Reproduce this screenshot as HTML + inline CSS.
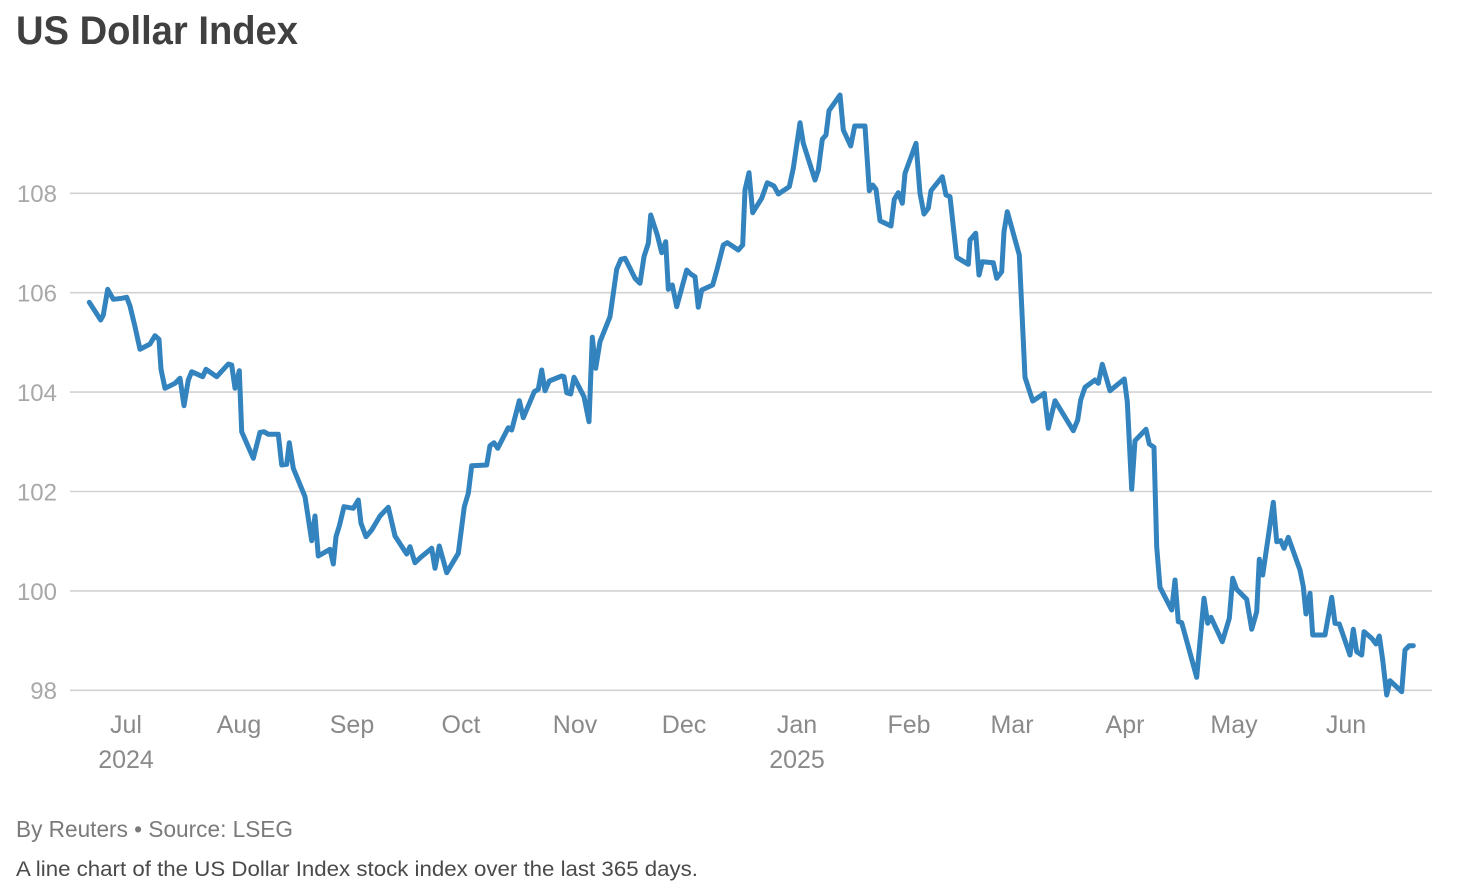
<!DOCTYPE html>
<html>
<head>
<meta charset="utf-8">
<style>
  html, body { margin: 0; padding: 0; background: #ffffff; }
  body { width: 1462px; height: 892px; overflow: hidden; }
  svg { display: block; }
</style>
</head>
<body>
<svg width="1462" height="892" viewBox="0 0 1462 892" xmlns="http://www.w3.org/2000/svg">
  <rect x="0" y="0" width="1462" height="892" fill="#ffffff"/>

  <!-- Title -->
  <text x="16" y="44" font-family="Liberation Sans, sans-serif" font-weight="bold" font-size="40" fill="#404040" textLength="282" lengthAdjust="spacingAndGlyphs">US Dollar Index</text>

  <!-- Gridlines -->
  <g stroke="#d2d2d2" stroke-width="1.6">
    <line x1="70" y1="193.3" x2="1432" y2="193.3"/>
    <line x1="70" y1="292.7" x2="1432" y2="292.7"/>
    <line x1="70" y1="392.1" x2="1432" y2="392.1"/>
    <line x1="70" y1="491.5" x2="1432" y2="491.5"/>
    <line x1="70" y1="590.9" x2="1432" y2="590.9"/>
    <line x1="70" y1="690.3" x2="1432" y2="690.3"/>
  </g>

  <!-- Y labels -->
  <g font-family="Liberation Sans, sans-serif" font-size="24" fill="#a8a8a8" text-anchor="end">
    <text x="57" y="202">108</text>
    <text x="57" y="301.5">106</text>
    <text x="57" y="401">104</text>
    <text x="57" y="500.5">102</text>
    <text x="57" y="600">100</text>
    <text x="57" y="699">98</text>
  </g>

  <!-- X labels -->
  <g font-family="Liberation Sans, sans-serif" font-size="25" fill="#8a8a8a" text-anchor="middle">
    <text x="126" y="733">Jul</text>
    <text x="126" y="768">2024</text>
    <text x="239" y="733">Aug</text>
    <text x="352" y="733">Sep</text>
    <text x="461" y="733">Oct</text>
    <text x="575" y="733">Nov</text>
    <text x="684" y="733">Dec</text>
    <text x="797" y="733">Jan</text>
    <text x="797" y="768">2025</text>
    <text x="909" y="733">Feb</text>
    <text x="1012" y="733">Mar</text>
    <text x="1125" y="733">Apr</text>
    <text x="1234" y="733">May</text>
    <text x="1346" y="733">Jun</text>
  </g>

  <!-- Data line -->
  <polyline fill="none" stroke="#3283be" stroke-width="5" stroke-linejoin="round" stroke-linecap="round"
    points="89.3,302.3 100.7,320 103.3,315 107.7,289.3 113.3,299.3 121.7,298.3 126.7,297.3 130,306 135,326.7 140,349.3 150,344 155,335.7 159,339.3 161,369.3 165,388.3 175,383.3 180,378.3 184,405.7 188.3,380 191.7,371.7 202.7,376.7 206,369.3 216.7,376.7 228.3,364 231.7,365 235,388.3 239.3,370.7 241.7,431.7 253.3,458.3 260,432.3 264,431.7 268.3,434.3 278.3,434.3 281.7,465 286.7,464.3 289.3,442.7 293.3,468.3 305,496.7 311.7,540.7 315,516 318.3,556 330,549.3 333.3,564 336,536.7 339.3,526 344,506.7 353.3,508.3 358.3,500 361,523.3 366,536.7 371.7,530 380,516 388.3,507.3 395,536 406.7,554 410,546.7 415,562.7 420.7,557.3 431.7,548.3 435,568.3 439.3,546 446.7,572.7 458.3,553.3 464.3,506.7 468.3,493.3 471.7,465.7 486.7,465 490,445.7 494,442.7 497.7,448.3 508.3,427.7 511.7,430 519.3,400.7 523.3,417.7 534.3,391.7 538.3,389.3 541.7,370 545,390.7 549.3,381 561.7,376 564,376.7 566.7,392.7 570.7,394 574,377.3 584,396.7 589,421.7 592.3,337.3 595.7,368.3 600,341.7 610,316.7 616.7,269.3 621,259.3 625,258.3 635,278.3 640,283.3 644,256.7 648.3,243.3 650.7,215 657.3,235 661.7,252.7 665.7,241.7 668.3,289.3 672.3,285 676.7,306.7 686.7,270 690.7,274 695,276.7 698.3,307.3 701.7,290 712.7,285 716.7,270.7 723.3,245 727.3,242.7 738.3,250 742.7,245 745,190 749,172.7 752.7,212.7 761.7,198.3 767.3,182.7 774,186 778.3,194 789.3,186.7 793.3,168.3 800,122.7 803.3,143.3 815,180 818.3,170 822.3,139.3 826,135 829,110.7 840,95 843.3,130 850.7,146 854.7,126 865,126 869.3,190.7 872.7,185 876,189.3 880,220.7 891,226 894.3,199.3 898.3,192.7 902.3,203.3 905,173.3 916,143.3 920,193.3 924,214 928.3,208.3 931,190.7 942.3,176.7 946,195 950,196.7 956.7,257.3 968.3,264.3 970,240 975.7,233.3 979,275 982.3,261.7 993.3,262.7 996.7,278.3 1001.7,271.7 1004,231.7 1007.3,211.7 1019.3,255 1025,377.3 1032.7,401 1044.3,393.3 1048.3,428.3 1055,400.7 1073.3,430.7 1077.7,420 1080.7,400 1085,387.3 1095,380 1098.3,383.3 1102.3,364.3 1110,390.7 1124.3,379 1127.3,401.7 1131.7,489.3 1135,440.7 1146,429.3 1149.3,444 1154,447.3 1156.7,546.7 1160,587.3 1171.7,610 1175,580 1178.3,621.7 1181.7,622.7 1196.7,677.3 1204,598.3 1207.7,623.3 1211,617.3 1222.3,641.7 1229.3,618.3 1232.7,578.3 1236.7,589.3 1246.7,599.3 1251.7,629.3 1256.7,611.7 1259.3,559.3 1262.7,575 1273.3,502.3 1276.7,541.7 1280.7,540.7 1284,548.3 1288.3,537.3 1300,570 1303.3,586.7 1306,614 1310,593.3 1312.7,635 1325,635 1331.7,597.3 1335,623.3 1339.3,624 1350,655 1353.3,629.3 1356.7,651.7 1361.7,655 1364,631.7 1371.7,638.3 1376,644 1379.3,636 1382.7,660 1386.7,695 1390,680.7 1401.7,691.7 1405,650 1409.3,645.7 1413.3,645.7"/>

  <!-- Footer -->
  <text x="16" y="837" font-family="Liberation Sans, sans-serif" font-size="23" fill="#7a7a7a" textLength="277" lengthAdjust="spacingAndGlyphs">By Reuters • Source: LSEG</text>
  <text x="16" y="876" font-family="Liberation Sans, sans-serif" font-size="21.5" fill="#4a4a4a" textLength="682" lengthAdjust="spacingAndGlyphs">A line chart of the US Dollar Index stock index over the last 365 days.</text>
</svg>
</body>
</html>
